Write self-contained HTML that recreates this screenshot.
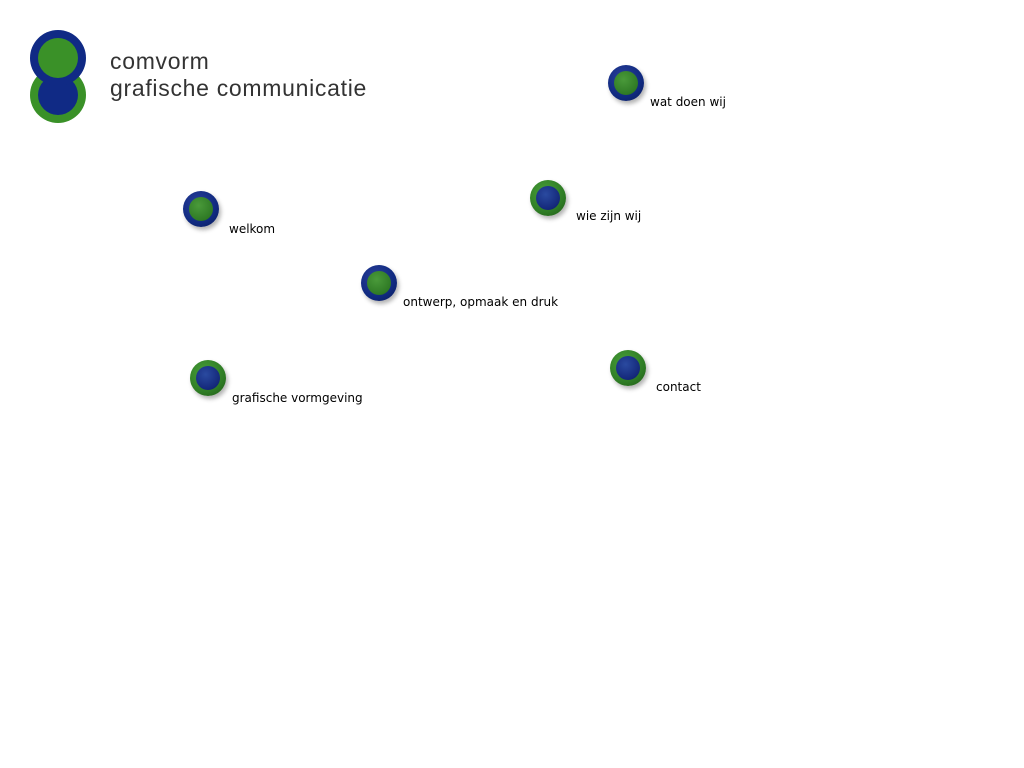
<!DOCTYPE html>
<html><head><style>
body{margin:0;width:1024px;height:768px;background:#fff;position:relative;overflow:hidden;font-family:"DejaVu Sans","Liberation Sans",sans-serif}
.b{position:absolute;width:36px;height:36px;border-radius:50%;box-shadow:2px 3px 4px rgba(0,0,0,.3)}
.b i{position:absolute;left:6px;top:6px;width:24px;height:24px;border-radius:50%}
.bl{background:radial-gradient(circle at 40% 35%,#2a3f9a,#102a80 60%,#0a1a55)}
.bl i{background:radial-gradient(circle at 40% 35%,#4a9a3a,#2f7a25 70%,#1f5a18)}
.gr{background:radial-gradient(circle at 40% 35%,#4aa03a,#2f7d25 60%,#1f5515)}
.gr i{background:radial-gradient(circle at 40% 35%,#2a4aa0,#14287a 70%,#0a1650)}
.t{position:absolute;font-size:12px;color:#000;line-height:14px}
.logo{position:absolute;left:110px;font-size:23px;color:#333;font-family:"Liberation Sans",sans-serif;line-height:26px;letter-spacing:0.7px}
</style></head><body>
<svg width="120" height="130" style="position:absolute;left:0;top:0">
<circle cx="58" cy="95" r="28" fill="#3a9128"/>
<circle cx="58" cy="95" r="20" fill="#102a85"/>
<circle cx="58" cy="58" r="28" fill="#102a85"/>
<circle cx="58" cy="58" r="20" fill="#3a9128"/>
</svg>
<div class="logo" style="top:48px">comvorm</div>
<div class="logo" style="top:75px">grafische communicatie</div>

<div class="b bl" style="left:608px;top:65px"><i></i></div><div class="t" style="left:650px;top:95px">wat doen wij</div>
<div class="b gr" style="left:530px;top:180px"><i></i></div><div class="t" style="left:576px;top:209px">wie zijn wij</div>
<div class="b bl" style="left:183px;top:191px"><i></i></div><div class="t" style="left:229px;top:222px">welkom</div>
<div class="b bl" style="left:361px;top:265px"><i></i></div><div class="t" style="left:403px;top:295px">ontwerp, opmaak en druk</div>
<div class="b gr" style="left:190px;top:360px"><i></i></div><div class="t" style="left:232px;top:391px">grafische vormgeving</div>
<div class="b gr" style="left:610px;top:350px"><i></i></div><div class="t" style="left:656px;top:380px">contact</div>
</body></html>
